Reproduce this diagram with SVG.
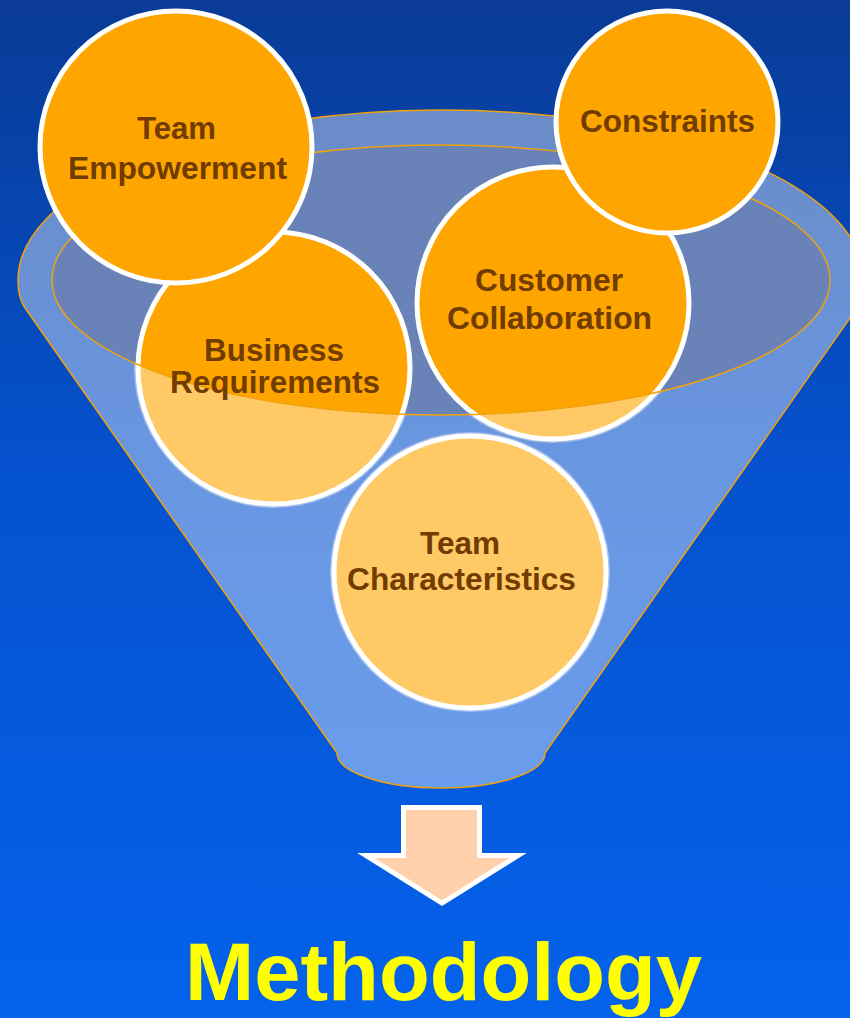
<svg xmlns="http://www.w3.org/2000/svg" xmlns:xlink="http://www.w3.org/1999/xlink" width="850" height="1018" viewBox="0 0 850 1018">
  <defs>
    <linearGradient id="bg" x1="0" y1="0" x2="0" y2="1">
      <stop offset="0" stop-color="#093b96"/>
      <stop offset="0.45" stop-color="#0551cd"/>
      <stop offset="1" stop-color="#0462ec"/>
    </linearGradient>
    <style>
      .ball { fill: #ffa500; stroke: #ffffff; stroke-width: 5; }
      .label { font-family: "Liberation Sans", Arial, sans-serif; font-weight: bold; font-size: 31px; fill: #713c00; text-anchor: middle; }
      .glass { fill: #ffffff; fill-opacity: 0.4; }
      .edge { fill: none; stroke: #f2a20c; stroke-width: 1.5; }
      .title { font-family: "Liberation Sans", Arial, sans-serif; font-weight: bold; font-size: 81px; fill: #ffff00; text-anchor: middle; }
    </style>
    <!-- front wall of the funnel: the part below the lower lip of the opening -->
    <g id="frontWall">
      <path class="glass" d="M18,280 Q18,298 25,308 L337,753 A104 35 0 0 0 545,753 L857,308 Q864,298 864,280 L830,280 A389 135 0 0 1 52,280 Z"/>
      <path class="edge" d="M830,280 A389 135 0 0 1 52,280"/>
    </g>
    <clipPath id="clip-business"><circle cx="274" cy="368" r="140"/></clipPath>
    <clipPath id="clip-customer"><circle cx="553" cy="303" r="140"/></clipPath>
    <clipPath id="clip-team-char"><circle cx="470" cy="572" r="140"/></clipPath>
  </defs>

  <rect x="0" y="0" width="850" height="1018" fill="url(#bg)"/>

  <!-- funnel body and opening -->
  <g id="funnel">
    <path class="glass" d="M18,280 A423 170 0 0 1 864,280 Q864,298 857,308 L545,753 A104 35 0 0 1 337,753 L25,308 Q18,298 18,280 Z"/>
    <path class="edge" d="M18,280 A423 170 0 0 1 864,280 Q864,298 857,308 L545,753 A104 35 0 0 1 337,753 L25,308 Q18,298 18,280 Z"/>
    <ellipse cx="441" cy="280" rx="389" ry="135" fill="#6983b9" stroke="#f2a20c" stroke-width="1.5"/>
  </g>

  <g id="node-business-requirements">
    <circle class="ball" cx="274" cy="368" r="136"/>
    <use xlink:href="#frontWall" href="#frontWall" clip-path="url(#clip-business)"/>
    <text class="label" x="274" y="361" textLength="140" lengthAdjust="spacingAndGlyphs">Business</text>
    <text class="label" x="275" y="393" textLength="210" lengthAdjust="spacingAndGlyphs">Requirements</text>
  </g>

  <g id="node-customer-collaboration">
    <circle class="ball" cx="553" cy="303" r="136"/>
    <use xlink:href="#frontWall" href="#frontWall" clip-path="url(#clip-customer)"/>
    <text class="label" x="549" y="291" textLength="148" lengthAdjust="spacingAndGlyphs">Customer</text>
    <text class="label" x="549.5" y="329" textLength="205" lengthAdjust="spacingAndGlyphs">Collaboration</text>
  </g>

  <g id="node-team-characteristics">
    <circle class="ball" cx="470" cy="572" r="136"/>
    <use xlink:href="#frontWall" href="#frontWall" clip-path="url(#clip-team-char)"/>
    <text class="label" x="460" y="554" textLength="80" lengthAdjust="spacingAndGlyphs">Team</text>
    <text class="label" x="461.5" y="590" textLength="229" lengthAdjust="spacingAndGlyphs">Characteristics</text>
  </g>

  <g id="node-team-empowerment">
    <circle class="ball" cx="176" cy="147" r="136"/>
    <text class="label" x="176.5" y="139" textLength="79" lengthAdjust="spacingAndGlyphs">Team</text>
    <text class="label" x="177.5" y="179" textLength="219" lengthAdjust="spacingAndGlyphs">Empowerment</text>
  </g>

  <g id="node-constraints">
    <circle class="ball" cx="667" cy="122" r="111"/>
    <text class="label" x="667.5" y="132" textLength="175" lengthAdjust="spacingAndGlyphs">Constraints</text>
  </g>

  <!-- output arrow -->
  <g id="connectors">
    <polygon points="403.5,807.5 479.5,807.5 479.5,855.5 518,855.5 442,903 366,855.5 403.5,855.5" fill="#ffd0aa" stroke="#ffffff" stroke-width="5" stroke-linejoin="miter"/>
  </g>

  <g id="node-methodology">
    <text class="title" x="443.5" y="1000" textLength="517" lengthAdjust="spacingAndGlyphs">Methodology</text>
  </g>
</svg>
